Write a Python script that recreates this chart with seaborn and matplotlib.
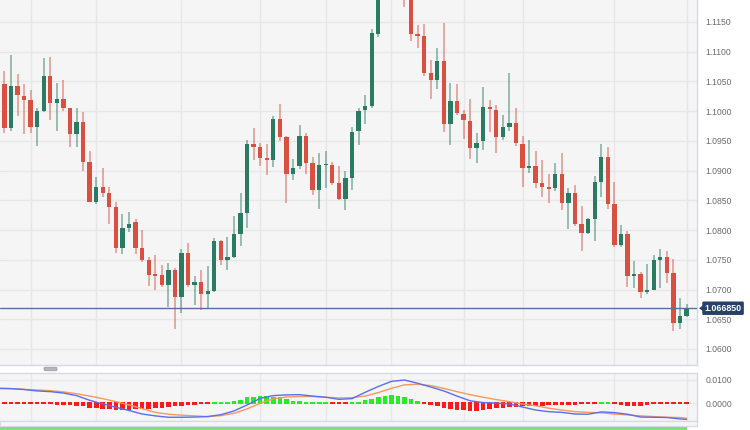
import numpy as np
import pandas as pd
import matplotlib
matplotlib.use("Agg")
import matplotlib.pyplot as plt
import matplotlib.transforms as mtransforms
from matplotlib.patches import FancyBboxPatch, Polygon, Rectangle
import seaborn as sns

# ---------------- data (EUR/USD daily candles) ----------------
opens = [1.0986, 1.1045, 1.0972, 1.1042, 1.1026, 1.1018, 1.0974, 1.1001, 1.1059, 1.1013,
         1.1020, 1.1006, 1.0961, 1.0982, 1.0915, 1.0848, 1.0873, 1.0862, 1.0839, 1.0769,
         1.0803, 1.0813, 1.0769, 1.0749, 1.0725, 1.0724, 1.0707, 1.0733, 1.0688, 1.0761,
         1.0707, 1.0712, 1.0692, 1.0697, 1.0782, 1.0749, 1.0754, 1.0793, 1.0828, 1.0944,
         1.0940, 1.0922, 1.0918, 1.0987, 1.0956, 1.0894, 1.0907, 1.0959, 1.0912, 1.0867,
         1.0909, 1.0910, 1.0879, 1.0853, 1.0887, 1.0966, 1.1002, 1.1008, 1.1129, 1.1227,
         1.1229, 1.1237, 1.1227, 1.1199, 1.1130, 1.1126, 1.1064, 1.1052, 1.1085, 1.0978,
         1.1017, 1.0996, 1.0984, 1.0938, 1.0949, 1.1007, 1.1002, 1.0956, 1.0974, 1.0980,
         1.0945, 1.0905, 1.0907, 1.0879, 1.0871, 1.0870, 1.0895, 1.0845, 1.0863, 1.0810,
         1.0795, 1.0819, 1.0880, 1.0923, 1.0844, 1.0775, 1.0793, 1.0722, 1.0726, 1.0696,
         1.0700, 1.0750, 1.0754, 1.0728, 1.0643, 1.0656]
highs = [1.1052, 1.1067, 1.1095, 1.1063, 1.1045, 1.1035, 1.1006, 1.1090, 1.1091, 1.1047,
         1.1052, 1.1006, 1.1006, 1.0998, 1.0933, 1.0890, 1.0904, 1.0873, 1.0848, 1.0827,
         1.0830, 1.0819, 1.0800, 1.0755, 1.0758, 1.0742, 1.0745, 1.0736, 1.0768, 1.0779,
         1.0722, 1.0733, 1.0739, 1.0786, 1.0784, 1.0789, 1.0824, 1.0863, 1.0952, 1.0971,
         1.0946, 1.0945, 1.0992, 1.1012, 1.0959, 1.0919, 1.0976, 1.0963, 1.0923, 1.0930,
         1.0933, 1.0915, 1.0907, 1.0900, 1.0974, 1.1005, 1.1027, 1.1139, 1.1245, 1.1244,
         1.1249, 1.1276, 1.1245, 1.1225, 1.1145, 1.1146, 1.1086, 1.1106, 1.1149, 1.1047,
         1.1045, 1.1002, 1.1020, 1.0963, 1.1041, 1.1018, 1.1010, 1.0994, 1.1065, 1.1005,
         1.0959, 1.0951, 1.0933, 1.0918, 1.0894, 1.0913, 1.0930, 1.0871, 1.0876, 1.0840,
         1.0821, 1.0891, 1.0945, 1.0940, 1.0881, 1.0808, 1.0799, 1.0748, 1.0730, 1.0743,
         1.0758, 1.0768, 1.0764, 1.0751, 1.0686, 1.0676]
lows = [1.0982, 1.0964, 1.0967, 1.0992, 1.0961, 1.0964, 1.0942, 1.0999, 1.0985, 1.0966,
        1.1001, 1.0940, 1.0940, 1.0899, 1.0847, 1.0844, 1.0855, 1.0810, 1.0761, 1.0760,
        1.0796, 1.0760, 1.0747, 1.0706, 1.0700, 1.0704, 1.0671, 1.0634, 1.0661, 1.0704,
        1.0674, 1.0666, 1.0667, 1.0695, 1.0741, 1.0733, 1.0753, 1.0774, 1.0803, 1.0918,
        1.0907, 1.0893, 1.0906, 1.0949, 1.0845, 1.0885, 1.0902, 1.0895, 1.0859, 1.0835,
        1.0870, 1.0875, 1.0850, 1.0834, 1.0867, 1.0943, 1.0978, 1.1005, 1.1125, 1.1206,
        1.1208, 1.1215, 1.1175, 1.1118, 1.1107, 1.1059, 1.1020, 1.1038, 1.0965, 1.0943,
        1.0994, 1.0953, 1.0919, 1.0912, 1.0935, 1.0965, 1.0929, 1.0951, 1.0966, 1.0942,
        1.0873, 1.0896, 1.0870, 1.0855, 1.0845, 1.0866, 1.0833, 1.0801, 1.0806, 1.0765,
        1.0793, 1.0782, 1.0855, 1.0835, 1.0772, 1.0771, 1.0705, 1.0702, 1.0686, 1.0693,
        1.0699, 1.0702, 1.0711, 1.0630, 1.0633, 1.0654]
closes = [1.1047, 1.0972, 1.1042, 1.1028, 1.1018, 1.0973, 1.1001, 1.1059, 1.1013, 1.1020,
          1.1006, 1.0961, 1.0982, 1.0915, 1.0848, 1.0873, 1.0862, 1.0839, 1.0769, 1.0803,
          1.0811, 1.0769, 1.0749, 1.0725, 1.0723, 1.0707, 1.0733, 1.0688, 1.0761, 1.0707,
          1.0712, 1.0692, 1.0698, 1.0782, 1.0749, 1.0755, 1.0793, 1.0828, 1.0944, 1.0940,
          1.0922, 1.0918, 1.0987, 1.0956, 1.0894, 1.0905, 1.0959, 1.0912, 1.0867, 1.0909,
          1.0911, 1.0879, 1.0853, 1.0887, 1.0965, 1.1001, 1.1008, 1.1131, 1.1227, 1.1229,
          1.1237, 1.1227, 1.1199, 1.1130, 1.1127, 1.1064, 1.1052, 1.1085, 1.0978, 1.1017,
          1.0997, 1.0985, 1.0938, 1.0947, 1.1007, 1.1003, 1.0956, 1.0973, 1.0980, 1.0946,
          1.0905, 1.0908, 1.0879, 1.0872, 1.0870, 1.0895, 1.0845, 1.0863, 1.0810, 1.0795,
          1.0819, 1.0880, 1.0923, 1.0844, 1.0775, 1.0793, 1.0722, 1.0726, 1.0696, 1.0699,
          1.0749, 1.0754, 1.0728, 1.0643, 1.0656, 1.06685]
last_price = 1.066850
price_ticks = [1.0600, 1.0650, 1.0700, 1.0750, 1.0800, 1.0850, 1.0900,
               1.0950, 1.1000, 1.1050, 1.1100, 1.1150]

# MACD (12,26,9) panel values
macd_idx = [0, 2, 4, 6, 8, 10, 12, 14, 16, 18, 20, 22, 24, 26, 28, 30, 32, 34, 36, 38,
            40, 42, 44, 46, 48, 50, 52, 54, 56, 58, 60, 62, 64, 66, 68, 70, 72, 74, 76, 78,
            80, 82, 84, 86, 88, 90, 92, 94, 96, 98, 100, 102, 104, 105]
macd_line = [0.0064, 0.0063, 0.0059, 0.0053, 0.0050, 0.0044, 0.0033, 0.0013, -0.0003, -0.0017,
             -0.0031, -0.0046, -0.0054, -0.0060, -0.0060, -0.0059, -0.0057, -0.0049, -0.0033, -0.0007,
             0.0021, 0.0033, 0.0036, 0.0037, 0.0031, 0.0026, 0.0017, 0.0020, 0.0047, 0.0072,
             0.0094, 0.0100, 0.0086, 0.0070, 0.0053, 0.0031, 0.0011, 0.0003, 0.0001, -0.0003,
             -0.0016, -0.0029, -0.0036, -0.0039, -0.0046, -0.0047, -0.0037, -0.0040, -0.0047, -0.0059,
             -0.0060, -0.0061, -0.0067, -0.0069]
signal_line = [0.0064, 0.0063, 0.0060, 0.0057, 0.0054, 0.0049, 0.0041, 0.0031, 0.0020, 0.0007,
               -0.0007, -0.0023, -0.0039, -0.0047, -0.0051, -0.0054, -0.0057, -0.0053, -0.0043, -0.0024,
               0.0000, 0.0019, 0.0027, 0.0029, 0.0029, 0.0026, 0.0023, 0.0024, 0.0031, 0.0046,
               0.0064, 0.0079, 0.0082, 0.0076, 0.0064, 0.0050, 0.0037, 0.0026, 0.0016, 0.0007,
               -0.0003, -0.0011, -0.0021, -0.0029, -0.0036, -0.0039, -0.0041, -0.0046, -0.0050, -0.0054,
               -0.0057, -0.0060, -0.0061, -0.0064]
hist = [-0.0001, -0.0001, -0.0001, -0.0001, -0.0004, -0.0004, -0.0004, -0.0004, -0.0004, -0.0006,
        -0.0007, -0.0008, -0.0009, -0.0010, -0.0019, -0.0021, -0.0023, -0.0024, -0.0026, -0.0029,
        -0.0026, -0.0024, -0.0023, -0.0023, -0.0021, -0.0019, -0.0014, -0.0011, -0.0009, -0.0007,
        -0.0006, -0.0004, -0.0003, 0.0003, 0.0004, 0.0006, 0.0009, 0.0013, 0.0026, 0.0029,
        0.0031, 0.0031, 0.0029, 0.0026, 0.0017, 0.0011, 0.0009, 0.0006, 0.0003, 0.0003,
        0.0001, -0.0001, -0.0003, -0.0003, 0.0003, 0.0007, 0.0014, 0.0019, 0.0029, 0.0033,
        0.0034, 0.0033, 0.0026, 0.0017, 0.0009, 0.0000, -0.0006, -0.0009, -0.0021, -0.0024,
        -0.0026, -0.0029, -0.0030, -0.0033, -0.0029, -0.0024, -0.0021, -0.0019, -0.0017, -0.0014,
        -0.0011, -0.0010, -0.0009, -0.0009, -0.0007, -0.0007, -0.0006, -0.0006, -0.0006, -0.0004,
        -0.0004, -0.0003, 0.0001, 0.0003, -0.0003, -0.0007, -0.0009, -0.0009, -0.0009, -0.0007,
        -0.0004, -0.0004, -0.0004, -0.0003, -0.0003, -0.0003]
macd_ticks = [0.0, 0.01]
grid_idx = [5, 15, 28, 40, 50, 60, 71, 80, 94, 105]

# ---------------- style ----------------
sns.set_theme(style="whitegrid")
plt.rcParams['font.family'] = ['Liberation Sans', 'DejaVu Sans']

W, H = 750, 430
fig = plt.figure(figsize=(7.5, 4.3), dpi=100)
fig.patch.set_facecolor('white')

def fx(px):
    return px / W

def fy(py):
    return 1 - py / H

BORDER = '#d3dae6'
GRID = '#e7e7e7'
BG = '#f5f5f5'
GREEN = '#2b7a62'
RED = '#d75040'
LABEL = '#6a6a6a'

ax1 = fig.add_axes([0, fy(365), fx(697), 365 / H])
ax2 = fig.add_axes([0, fy(421), fx(697), 48 / H])
XL = (0.33, 106.6)

# ---------------- candles ----------------
df = pd.DataFrame(dict(idx=np.arange(len(opens)), open=opens, high=highs,
                       low=lows, close=closes))
up = df['close'] >= df['open']
colors = np.where(up, GREEN, RED)
mid = (df['open'] + df['close']) / 2
body_h = np.maximum((df['close'] - df['open']).abs(), 0.00028)
body_lo = mid - body_h / 2
ax1.vlines(df['idx'], df['low'], df['high'], colors=colors, alpha=0.5, lw=1.3, zorder=2)
ax1.bar(df['idx'], body_h, bottom=body_lo, width=0.66, color=colors, lw=0, zorder=3)

ax1.axhline(last_price, color='#5a6e96', lw=1.0, zorder=4)

ax1.set_xlim(*XL)
ax1.set_ylim(1.0573, 1.1187)
ax1.set_facecolor(BG)
ax1.yaxis.tick_right()
ax1.set_yticks(price_ticks)
ax1.set_yticklabels([f'{t:.4f}' for t in price_ticks])
ax1.set_xticks(grid_idx)
ax1.set_xticklabels([])
ax1.tick_params(axis='both', length=0)
ax1.tick_params(axis='y', pad=6, labelsize=6.2, labelcolor=LABEL)
ax1.grid(True, color=GRID, lw=1)
for s in ['left', 'top']:
    ax1.spines[s].set_visible(False)
for s in ['right', 'bottom']:
    ax1.spines[s].set_color(BORDER)
    ax1.spines[s].set_linewidth(1)

# price tag
tr = mtransforms.blended_transform_factory(fig.transFigure, ax1.transData)
ax1.text(fx(704.5), last_price, f'{last_price:.6f}', transform=tr, ha='left', va='center',
         fontsize=6.4, fontweight='bold', color='white', zorder=6, clip_on=False,
         bbox=dict(boxstyle='round,pad=0.25,rounding_size=0.15', fc='#26406b', ec='none'))
ax1.add_patch(Polygon([[fx(699), last_price], [fx(703.5), last_price + 0.00055],
                       [fx(703.5), last_price - 0.00055]], closed=True, transform=tr,
                      fc='#26406b', ec='none', clip_on=False, zorder=6))

# ---------------- MACD ----------------
h = np.array(hist)
hcol = np.where(h > 0, '#22ee22', '#ff1a1a')
lo = np.where(h > 0, -0.0004, np.minimum(h, -0.0004) - 0.0001)
hi = np.where(h > 0, np.maximum(h, 0.0004), 0.00035)
ax2.bar(np.arange(len(h)), hi - lo, bottom=lo, width=0.7, color=hcol, lw=0, zorder=2)

mdf = pd.DataFrame(dict(idx=macd_idx, macd=macd_line, signal=signal_line))
sns.lineplot(data=mdf, x='idx', y='signal', ax=ax2, color='#f59a5c', lw=1.0, zorder=3)
sns.lineplot(data=mdf, x='idx', y='macd', ax=ax2, color='#5b6df2', lw=1.0, zorder=4)

ax2.set_xlim(*XL)
ax2.set_ylim(-0.0076, 0.0130)
ax2.set_facecolor(BG)
ax2.set_xlabel('')
ax2.set_ylabel('')
ax2.yaxis.tick_right()
ax2.set_yticks(macd_ticks)
ax2.set_yticklabels([f'{t:.4f}' for t in macd_ticks])
ax2.set_xticks(grid_idx)
ax2.set_xticklabels([])
ax2.tick_params(axis='both', length=0)
ax2.tick_params(axis='y', pad=6, labelsize=6.2, labelcolor=LABEL)
ax2.grid(True, color=GRID, lw=1)
ax2.spines['left'].set_visible(False)
for s in ['right', 'bottom', 'top']:
    ax2.spines[s].set_color(BORDER)
    ax2.spines[s].set_linewidth(1)

# ---------------- scroll handles & lower panel edge ----------------
for yc in (369, 423.5):
    fig.patches.append(FancyBboxPatch((fx(44), fy(yc + 1.8)), fx(13), 3.6 / H,
                                      boxstyle='round,pad=0,rounding_size=0.002',
                                      transform=fig.transFigure, fc='#b5b5b5',
                                      ec='#9a9a9a', lw=0.5))
fig.patches.append(Rectangle((0, fy(426)), fx(697), 5 / H, transform=fig.transFigure,
                             fc='#f5f5f5', ec=BORDER, lw=0.8))
fig.patches.append(Rectangle((0, fy(430)), fx(687), 2.6 / H, transform=fig.transFigure,
                             fc='#7fe07f', ec='none'))

fig.savefig('out.png', dpi=100, facecolor='white')
